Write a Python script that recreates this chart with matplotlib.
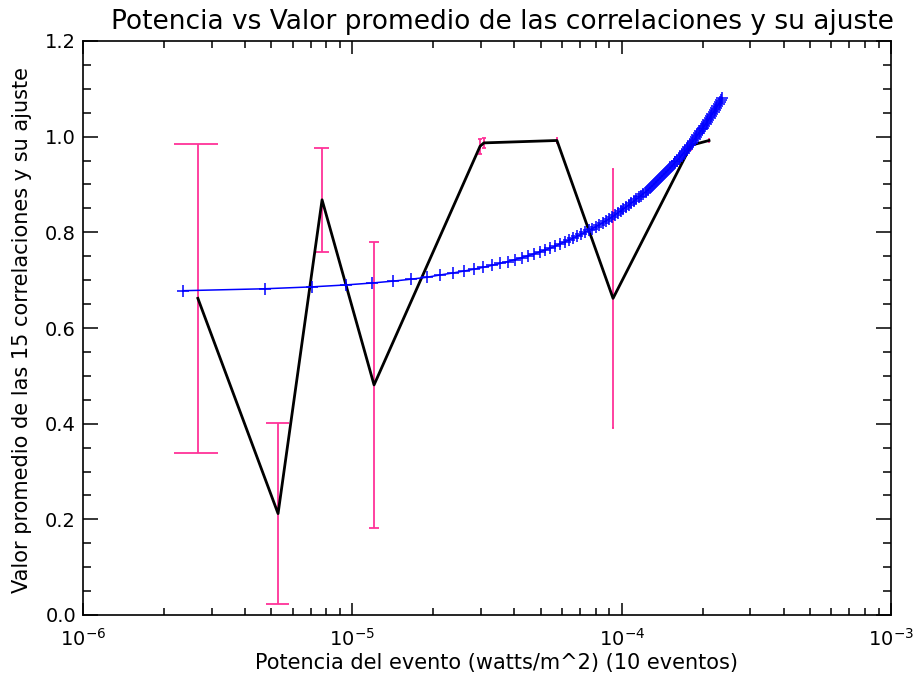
import numpy as np
import matplotlib
matplotlib.use("Agg")
import matplotlib.pyplot as plt
from matplotlib.ticker import LogLocator, FixedLocator, MultipleLocator, FormatStrFormatter

# ---- data ----
event_power = [2.67e-6, 5.30e-6, 7.72e-6, 1.204e-5, 2.98e-5, 3.08e-5,
               5.75e-5, 9.29e-5, 1.81e-4, 2.11e-4]
mean_corr = [0.662, 0.212, 0.868, 0.481, 0.980, 0.987, 0.992, 0.662, 0.982, 0.992]
corr_err = [0.323, 0.190, 0.109, 0.299, 0.016, 0.010, 0.006, 0.271, 0.012, 0.005]

# fitted curve (sampled points of the fit, x in units of 1e-6 W/m^2)
fit_x_micro = [
    2.36, 4.72, 7.08, 9.44, 11.80, 14.16, 16.52, 18.88, 21.24, 23.60,
    25.96, 28.32, 30.68, 33.04, 35.40, 37.76, 40.12, 42.48, 44.84, 47.20,
    49.56, 51.92, 54.28, 56.64, 59.00, 61.36, 63.72, 66.08, 68.44, 70.80,
    73.16, 75.52, 77.88, 80.24, 82.60, 84.96, 87.32, 89.68, 92.04, 94.40,
    96.76, 99.12, 101.48, 103.84, 106.20, 108.56, 110.92, 113.28, 115.64, 118.00,
    120.36, 122.72, 125.08, 127.44, 129.80, 132.16, 134.52, 136.88, 139.24, 141.60,
    143.96, 146.32, 148.68, 151.04, 153.40, 155.76, 158.12, 160.48, 162.84, 165.20,
    167.56, 169.92, 172.28, 174.64, 177.00, 179.36, 181.72, 184.08, 186.44, 188.80,
    191.16, 193.52, 195.88, 198.24, 200.60, 202.96, 205.32, 207.68, 210.04, 212.40,
    214.76, 217.12, 219.48, 221.84, 224.20, 226.56, 228.92, 231.28, 233.64, 236.00]
fit_y = [
    0.678, 0.682, 0.686, 0.690, 0.694, 0.698, 0.702, 0.706, 0.711, 0.715,
    0.719, 0.723, 0.727, 0.731, 0.735, 0.739, 0.743, 0.747, 0.751, 0.755,
    0.759, 0.763, 0.767, 0.771, 0.776, 0.780, 0.784, 0.788, 0.792, 0.796,
    0.800, 0.804, 0.808, 0.812, 0.816, 0.820, 0.824, 0.828, 0.832, 0.836,
    0.841, 0.845, 0.849, 0.853, 0.857, 0.861, 0.865, 0.869, 0.873, 0.877,
    0.881, 0.885, 0.889, 0.893, 0.897, 0.901, 0.906, 0.910, 0.914, 0.918,
    0.922, 0.926, 0.930, 0.934, 0.938, 0.942, 0.946, 0.950, 0.954, 0.958,
    0.962, 0.966, 0.970, 0.975, 0.979, 0.983, 0.987, 0.991, 0.995, 0.999,
    1.003, 1.007, 1.011, 1.015, 1.019, 1.023, 1.027, 1.031, 1.035, 1.040,
    1.044, 1.048, 1.052, 1.056, 1.060, 1.064, 1.068, 1.072, 1.076, 1.080]

y_ticks = [0.0, 0.2, 0.4, 0.6, 0.8, 1.0, 1.2]

title = "Potencia vs Valor promedio de las correlaciones y su ajuste"
xlabel = "Potencia del evento (watts/m^2) (10 eventos)"
ylabel = "Valor promedio de las 15 correlaciones y su ajuste"

# ---- styling ----
plt.rcParams['font.family'] = ['DejaVu Sans']
plt.rcParams['mathtext.fontset'] = 'dejavusans'
ERR_COLOR = '#ff3399'
CAP_HALF = 5e-7  # cap half-width in data units (as in IDL errplot)

W, H = 916, 677
fig = plt.figure(figsize=(W / 100, H / 100), dpi=100)
ax = fig.add_axes([83 / W, 1 - 615 / H, (891 - 83) / W, (615 - 41) / H])

ex = np.array(event_power)
ey = np.array(mean_corr)
ee = np.array(corr_err)

# error bars
ax.vlines(ex, ey - ee, ey + ee, colors=ERR_COLOR, linewidth=1.3, zorder=2)
ax.hlines(ey - ee, ex - CAP_HALF, ex + CAP_HALF, colors=ERR_COLOR, linewidth=1.3, zorder=2)
ax.hlines(ey + ee, ex - CAP_HALF, ex + CAP_HALF, colors=ERR_COLOR, linewidth=1.3, zorder=2)

# data line
ax.plot(ex, ey, color='black', linewidth=2.0, zorder=3)

# fit
ax.plot(np.array(fit_x_micro) * 1e-6, fit_y, color='#0000ff', linewidth=1.1,
        marker='+', markersize=9, markeredgewidth=1.1, zorder=4)

ax.set_xscale('log')
ax.set_xlim(1e-6, 1e-3)
ax.set_ylim(0, 1.2)
ax.yaxis.set_major_locator(FixedLocator(y_ticks))
ax.yaxis.set_minor_locator(MultipleLocator(0.05))
ax.yaxis.set_major_formatter(FormatStrFormatter('%.1f'))
ax.xaxis.set_major_locator(LogLocator(base=10, numticks=10))
ax.xaxis.set_minor_locator(LogLocator(base=10, subs=np.arange(2, 10), numticks=20))

ax.tick_params(axis='both', which='both', direction='in', top=True, right=True,
               width=1.1, color='black')
ax.tick_params(axis='y', which='major', length=11, labelsize=14, pad=5)
ax.tick_params(axis='y', which='minor', length=6)
ax.tick_params(axis='x', which='major', length=9, labelsize=14, pad=9)
ax.tick_params(axis='x', which='minor', length=5)
ax.tick_params(axis='y', which='both', right=True, labelright=False)
for s in ax.spines.values():
    s.set_linewidth(1.2)

fig.text(502 / W, 1 - 22 / H, title, ha='center', va='center', fontsize=19)
fig.text(496 / W, 1 - 663 / H, xlabel, ha='center', va='center', fontsize=15)
fig.text(22 / W, 1 - 330 / H, ylabel, ha='center', va='center', rotation=90, fontsize=15)

fig.savefig('out.png', dpi=100)
